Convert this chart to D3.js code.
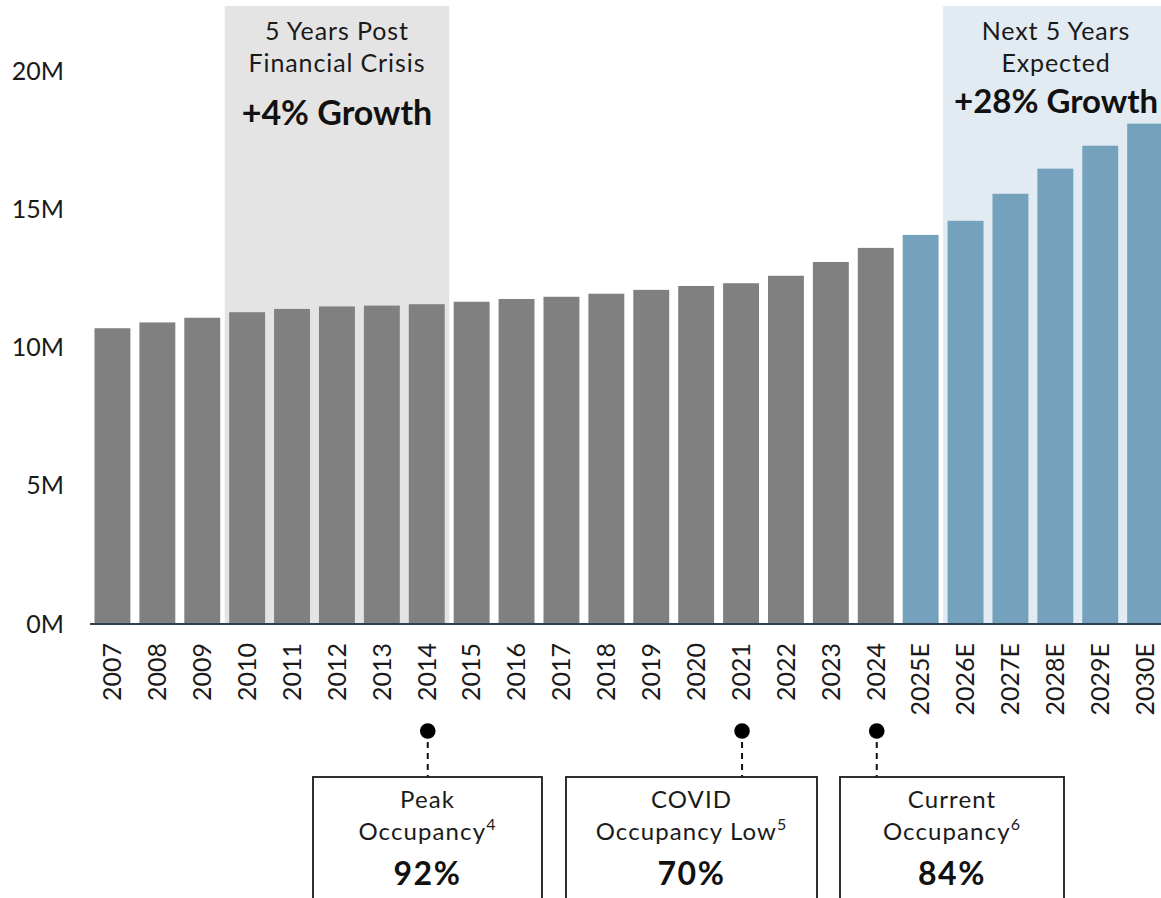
<!DOCTYPE html>
<html>
<head>
<meta charset="utf-8">
<script src="https://cdn.jsdelivr.net/npm/d3@7"></script>
<style>
  html, body { margin: 0; padding: 0; background: #fff; }
  svg { display: block; font-family: Lato, "Open Sans", "Noto Sans", sans-serif; }
</style>
</head>
<body>
<svg id="chart" width="1161" height="898"></svg>
<script>
// Annual volume (millions), actuals through 2024, estimates 2025E-2030E
const years = ["2007","2008","2009","2010","2011","2012","2013","2014","2015","2016","2017","2018",
               "2019","2020","2021","2022","2023","2024","2025E","2026E","2027E","2028E","2029E","2030E"];
const values = [10.71, 10.92, 11.09, 11.29, 11.41, 11.50, 11.53, 11.58, 11.67, 11.77, 11.85, 11.96,
                12.10, 12.24, 12.34, 12.61, 13.11, 13.62, 14.09, 14.60, 15.58, 16.49, 17.32, 18.12];
const isEstimate = years.map(y => y.endsWith("E"));
const yTicks = [0, 5, 10, 15, 20];

// Highlighted periods
const periods = [
  { from: "2010", to: "2014", fill: "#e4e4e4", lines: ["5 Years Post", "Financial Crisis"], headline: "+4% Growth", headlineY: 125, headlineSize: 34 },
  { from: "2026E", to: "2030E", fill: "#e2ebf1", lines: ["Next 5 Years", "Expected"], headline: "+28% Growth", headlineY: 113, headlineSize: 33 }
];

// Occupancy callouts
const callouts = [
  { year: "2014", line1: "Peak", line2: "Occupancy", note: "4", value: "92%", box: [313, 542] },
  { year: "2021", line1: "COVID", line2: "Occupancy Low", note: "5", value: "70%", box: [566, 817] },
  { year: "2024", line1: "Current", line2: "Occupancy", note: "6", value: "84%", box: [840, 1064] }
];

const svg = d3.select("#chart");
const baseY = 624, topY = 71.7, W = 1161;
const textColor = "#1a1a1a";

const x = d3.scaleBand().domain(years).range([90, 90 + 24 * 44.9]).paddingInner(0.2).paddingOuter(0.1);
const y = d3.scaleLinear().domain([0, 20]).range([baseY, topY]);
const bw = x.bandwidth();
const gap = (x.step() - bw) / 2;

// Shaded period backgrounds with their captions
periods.forEach(p => {
  const x0 = x(p.from) - gap;
  const x1 = x(p.to) + bw + gap;
  svg.append("rect").attr("x", x0).attr("y", 6).attr("width", x1 - x0).attr("height", baseY - 6).attr("fill", p.fill);
  // caption centred on the visible part of the band
  const tx = x1 > W ? (x0 + W) / 2 + 4 : (x0 + x1) / 2;
  p.lines.forEach((t, i) => {
    svg.append("text").attr("x", tx).attr("y", 40 + i * 31.7).attr("text-anchor", "middle")
      .attr("font-size", 25).attr("font-weight", 400).attr("letter-spacing", 0.9)
      .attr("fill", textColor).text(t);
  });
  svg.append("text").attr("x", tx).attr("y", p.headlineY).attr("text-anchor", "middle")
    .attr("font-size", p.headlineSize).attr("font-weight", 700).attr("fill", "#111").text(p.headline);
});

// Bars
svg.append("g").selectAll("rect").data(years).join("rect")
  .attr("x", d => x(d)).attr("width", bw)
  .attr("y", (d, i) => y(values[i]))
  .attr("height", (d, i) => baseY - y(values[i]))
  .attr("fill", (d, i) => isEstimate[i] ? "#74a1bc" : "#808080");

// Y axis labels
const yAxis = d3.axisLeft(y).tickValues(yTicks).tickFormat(d => d + "M").tickSize(0).tickPadding(0);
const yg = svg.append("g").attr("transform", "translate(64,0)").call(yAxis);
yg.select(".domain").remove();
yg.selectAll("text").attr("font-size", 25).attr("font-weight", 400).attr("fill", textColor)
  .attr("font-family", "Lato, 'Open Sans', sans-serif");

// X axis baseline and rotated year labels
const xAxis = d3.axisBottom(x).tickSize(0).tickPadding(0);
const xg = svg.append("g").attr("transform", `translate(0,${baseY})`).call(xAxis);
xg.select(".domain").remove();
xg.selectAll(".tick text")
  .attr("font-size", 25).attr("font-weight", 400).attr("fill", textColor)
  .attr("font-family", "Lato, 'Open Sans', sans-serif")
  .attr("text-anchor", "end")
  .attr("transform", "translate(0,19) rotate(-90)")
  .attr("x", 0).attr("y", 0).attr("dy", "0.35em");
svg.append("line").attr("x1", 90).attr("x2", W).attr("y1", baseY).attr("y2", baseY)
  .attr("stroke", "#2e3f4f").attr("stroke-width", 2);

// Callouts: dot, dashed leader, box with text
callouts.forEach(c => {
  const cx = x(c.year) + bw / 2 + 1;
  svg.append("line").attr("x1", cx).attr("x2", cx).attr("y1", 731).attr("y2", 777)
    .attr("stroke", "#111").attr("stroke-width", 2).attr("stroke-dasharray", "6,5");
  svg.append("circle").attr("cx", cx).attr("cy", 731).attr("r", 7.8).attr("fill", "#000");
  const [b0, b1] = c.box;
  svg.append("rect").attr("x", b0).attr("y", 777).attr("width", b1 - b0).attr("height", 140)
    .attr("fill", "#fff").attr("stroke", textColor).attr("stroke-width", 1.8);
  const mx = (b0 + b1) / 2;
  svg.append("text").attr("x", mx).attr("y", 808).attr("text-anchor", "middle")
    .attr("font-size", 24).attr("font-weight", 400).attr("letter-spacing", 1.1)
    .attr("fill", textColor).text(c.line1);
  const t2 = svg.append("text").attr("x", mx).attr("y", 840).attr("text-anchor", "middle")
    .attr("font-size", 24).attr("font-weight", 400).attr("letter-spacing", 1.1).attr("fill", textColor);
  t2.append("tspan").text(c.line2);
  t2.append("tspan").attr("font-size", 16).attr("dy", -10).text(c.note);
  svg.append("text").attr("x", mx).attr("y", 885).attr("text-anchor", "middle")
    .attr("font-size", 32).attr("font-weight", 700).attr("letter-spacing", 1.5)
    .attr("fill", "#111").text(c.value);
});
</script>
</body>
</html>
